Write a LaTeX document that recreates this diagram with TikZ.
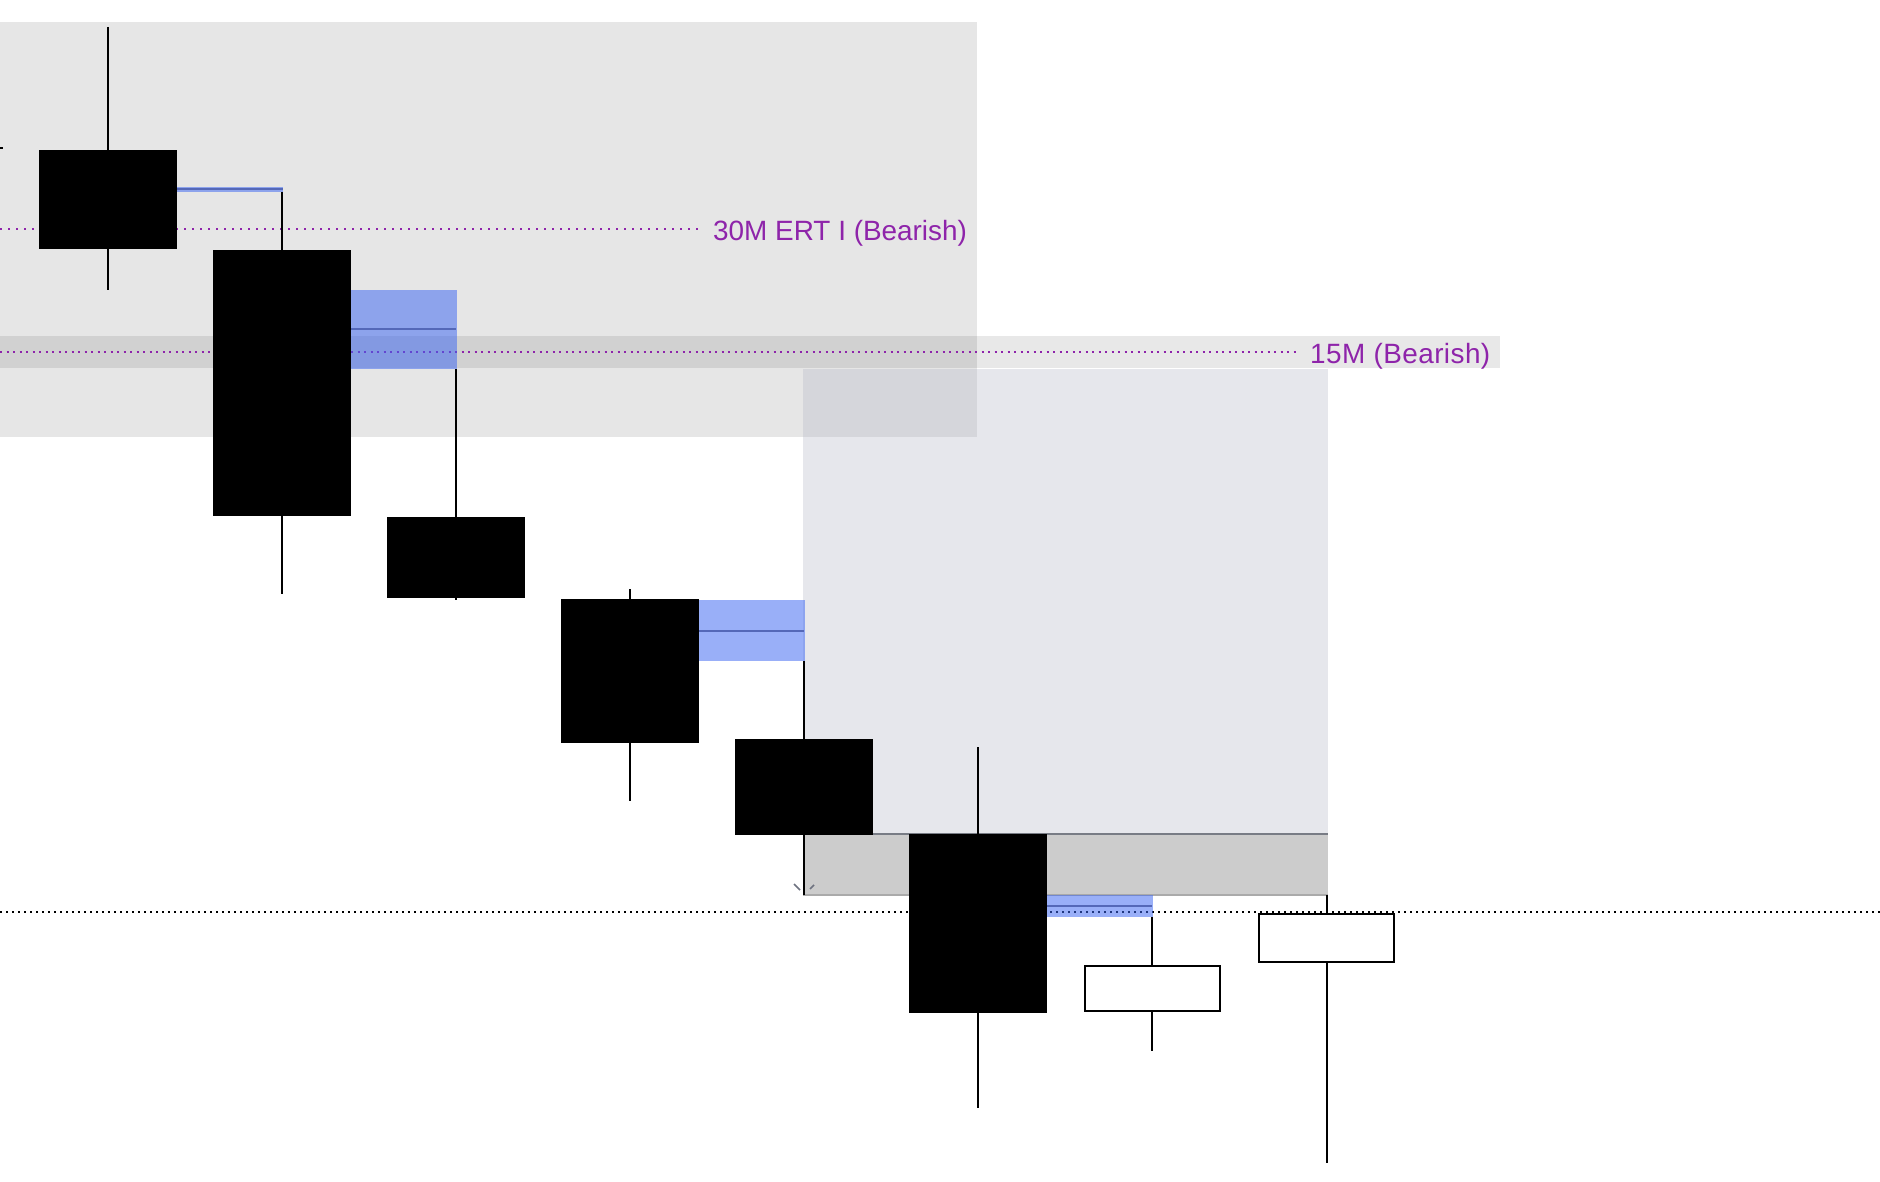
\documentclass[tikz,border=0pt]{standalone}
\usepackage{fontspec}
\setmainfont{Liberation Sans}
\newfontfamily\lblwide[LetterSpace=1.6]{Liberation Sans}
\definecolor{ertpurple}{RGB}{142,36,170}
\definecolor{fvgblue}{RGB}{61,103,243}
\definecolor{fvgline}{RGB}{84,104,184}
\definecolor{zonefill}{RGB}{180,183,196}
\definecolor{stopfill}{RGB}{204,204,204}
\definecolor{stopedge}{RGB}{120,124,133}
\definecolor{stopedgeb}{RGB}{170,170,170}
\definecolor{markgrey}{RGB}{110,114,128}
\tikzset{
  greyzone/.style={fill=black, fill opacity=0.098},
  band/.style={fill=black, fill opacity=0.09},
  lightzone/.style={fill=zonefill, fill opacity=0.32},
  stopzone/.style={fill=stopfill},
  fvg/.style={fill=fvgblue, fill opacity=0.52},
  midline/.style={draw=fvgline, line width=2pt},
  wick/.style={draw=black, line width=2pt},
  bearbody/.style={fill=black},
  bullbody/.style={draw=black, line width=2pt, fill=white},
  purpledotsA/.style={draw=ertpurple, line width=2pt, dash pattern=on 2pt off 6pt},
  purpledotsB/.style={draw=ertpurple, line width=2pt, dash pattern=on 2pt off 4.5pt},
  blackdots/.style={draw=black, line width=2pt, dash pattern=on 2pt off 4pt},
  lbl/.style={text=ertpurple, inner sep=0pt, anchor=base west, font=\fontsize{27.9}{30}\selectfont}
}
\begin{document}
\begin{tikzpicture}[x=1pt,y=-1pt]
\useasboundingbox (0,0) rectangle (1880,1182);
\fill[white] (0,0) rectangle (1880,1182);
% zones
\fill[greyzone] (0,22) rectangle (977,437);
\fill[band] (0,336) rectangle (1500,368);
\fill[lightzone] (803,369) rectangle (1328,834);
\fill[stopzone] (803,834) rectangle (1328,895);
\draw[stopedge, line width=2pt] (803,834) -- (1328,834);
\draw[stopedgeb, line width=1.5pt] (803,895) -- (1328,895);
% labels
\node[lbl] (lbl30) at (713,241) {30M ERT I (Bearish)};
\node[lbl, font=\fontsize{27.9}{30}\lblwide] (lbl15) at (1310,363) {15M (Bearish)};
\coordinate (s30) at (0,229);
\coordinate (e30) at (701,229);
\coordinate (s15) at (0,352);
\coordinate (e15) at (1297,352);
\draw[purpledotsA] (s30) -- (e30);
\draw[purpledotsB] (s15) -- (e15);
\coordinate (sb) at (0,912);
\coordinate (eb) at (1880,912);
\draw[blackdots] (sb) -- (eb);
% fair value gaps
\fill[fvg] (177,187) rectangle (283,192);
\draw[midline] (177,189.5) -- (283,189.5);
\fill[fvg] (351,290) rectangle (457,369);
\draw[midline] (351,329) -- (456,329);
\fill[fvg] (699,600) rectangle (805,661);
\draw[midline] (699,631) -- (804,631);
\fill[fvg] (1047,895) rectangle (1153,917);
\draw[midline] (1047,906) -- (1152,906);
% wicks
\draw[wick] (108,27) -- (108,290);
\draw[wick] (282,192) -- (282,594);
\draw[wick] (456,369) -- (456,600);
\draw[wick] (630,589) -- (630,801);
\draw[wick] (804,661) -- (804,895);
\draw[wick] (978,747) -- (978,1108);
\draw[wick] (1152,917) -- (1152,1051);
\draw[wick] (1327,895) -- (1327,1163);
% bodies
\fill[bearbody] (39,150) rectangle (177,249);
\fill[bearbody] (213,250) rectangle (351,516);
\fill[bearbody] (387,517) rectangle (525,598);
\fill[bearbody] (561,599) rectangle (699,743);
\fill[bearbody] (735,739) rectangle (873,835);
\fill[bearbody] (909,834) rectangle (1047,1013);
\filldraw[bullbody] (1085,966) rectangle (1220,1011);
\filldraw[bullbody] (1259,914) rectangle (1394,962);
% small marks
\draw[black, line width=2pt] (0,148) -- (3,148);
\draw[markgrey, line width=1.5pt] (794,884) -- (800,890);
\draw[markgrey, line width=1.5pt] (810,889) -- (814,885);
\end{tikzpicture}
\end{document}
